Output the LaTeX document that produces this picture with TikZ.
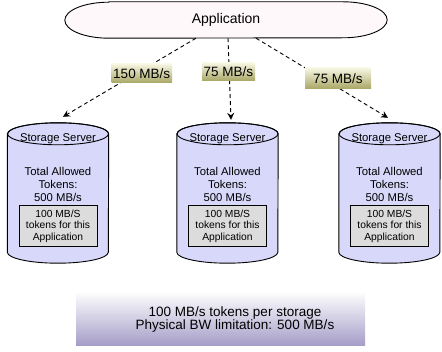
\documentclass[tikz,border=0pt]{standalone}
\usepackage{fontspec}
\setmainfont{Liberation Sans}
\usetikzlibrary{arrows.meta,backgrounds,calc}
\definecolor{appfill}{RGB}{255,248,250}
\definecolor{cylfill}{RGB}{216,216,250}
\definecolor{innerfill}{RGB}{220,220,220}
\definecolor{labtop}{RGB}{246,246,226}
\definecolor{labbot}{RGB}{168,166,100}
\definecolor{boxtop}{RGB}{252,252,253}
\definecolor{boxbot}{RGB}{166,158,200}
\newcommand\storagecyl[2]{%
  \node[cylbody] (#1) at (#2,158) {};
  \path[draw, fill=cylfill, line width=0.9pt]
    ($(#1.north west)+(0,-11)$) -- ($(#1.south west)+(0,11)$)
    arc[start angle=180,end angle=360,x radius=50.5,y radius=11]
    -- ($(#1.north east)+(0,-11)$)
    arc[start angle=0,end angle=180,x radius=50.5,y radius=11] -- cycle;
  \draw[line width=0.9pt] ($(#1.north)+(0,-11)$) ellipse[x radius=50.5,y radius=11];
  \node[cyltext] (#1s) at ($(#1.north)+(0,-16)$) {Storage Server};
  \node[cyltext] (#1t) at ($(#1.north)+(0,-62)$) {Total Allowed\\Tokens:\\500 MB/s};
  \node[innerbox] (#1b) at ($(#1.north)+(0,-103.5)$) {100 MB/S\\tokens for this\\Application};
}
\begin{document}
\begin{tikzpicture}[x=1pt,y=1pt,
  conn/.style={dash pattern=on 4pt off 3pt, line width=0.9pt, -{Stealth[length=7pt,width=7pt,inset=2.5pt]}},
  rate/.style={top color=labtop, bottom color=labbot, inner sep=0pt, font=\fontsize{13.5}{14}\selectfont},
  cylbody/.style={minimum width=101pt, minimum height=140pt, inner sep=0pt},
  cyltext/.style={font=\fontsize{11.3}{13}\selectfont, align=center, inner sep=0pt},
  innerbox/.style={draw, fill=innerfill, line width=0.7pt, minimum width=78pt, minimum height=41pt, align=center, inner sep=1pt, font=\fontsize{10.3}{11.5}\selectfont},
  limbox/.style={top color=boxtop, bottom color=boxbot, minimum width=289pt, minimum height=52pt, inner sep=0pt},
  limtext/.style={align=center, inner sep=0pt, font=\fontsize{13.5}{13}\selectfont},
  appnode/.style={minimum width=322pt, minimum height=36pt, inner sep=0pt, font=\fontsize{14}{16}\selectfont}]
\useasboundingbox (0,0) rectangle (442,351);
\node[appnode] (app) at (226,331) {Application};
\begin{scope}[on background layer]
\draw[fill=appfill, line width=0.9pt]
  ($(app.north west)+(44,0)$) -- ($(app.north east)+(-44,0)$)
  arc[start angle=90,end angle=-90,x radius=44,y radius=18]
  -- ($(app.south west)+(44,0)$)
  arc[start angle=270,end angle=90,x radius=44,y radius=18] -- cycle;
\end{scope}
\storagecyl{c1}{58}
\storagecyl{c2}{227.5}
\storagecyl{c3}{389.5}
\draw[conn] ([xshift=-30pt]app.south) -- ([shift={(5,6)}]c1.north);
\draw[conn] ([xshift=2pt]app.south) -- ([shift={(3.5,3)}]c2.north);
\draw[conn] ([xshift=30pt]app.south) -- ([shift={(-1.5,5)}]c3.north);
\node[rate, minimum width=60.5pt, minimum height=19pt] (r1) at (141.75,277.5) {150 MB/s};
\node[rate, minimum width=53pt, minimum height=18pt] (r2) at (228.5,279) {75 MB/s};
\node[rate, minimum width=66pt, minimum height=21pt] (r3) at (338,272.5) {75 MB/s};
\node[limbox] (lim) at (220.5,32) {};
\node[limtext] (limt) at (235,31.5) {100 MB/s tokens per storage\\Physical BW limitation: 500 MB/s};
\end{tikzpicture}
\end{document}
